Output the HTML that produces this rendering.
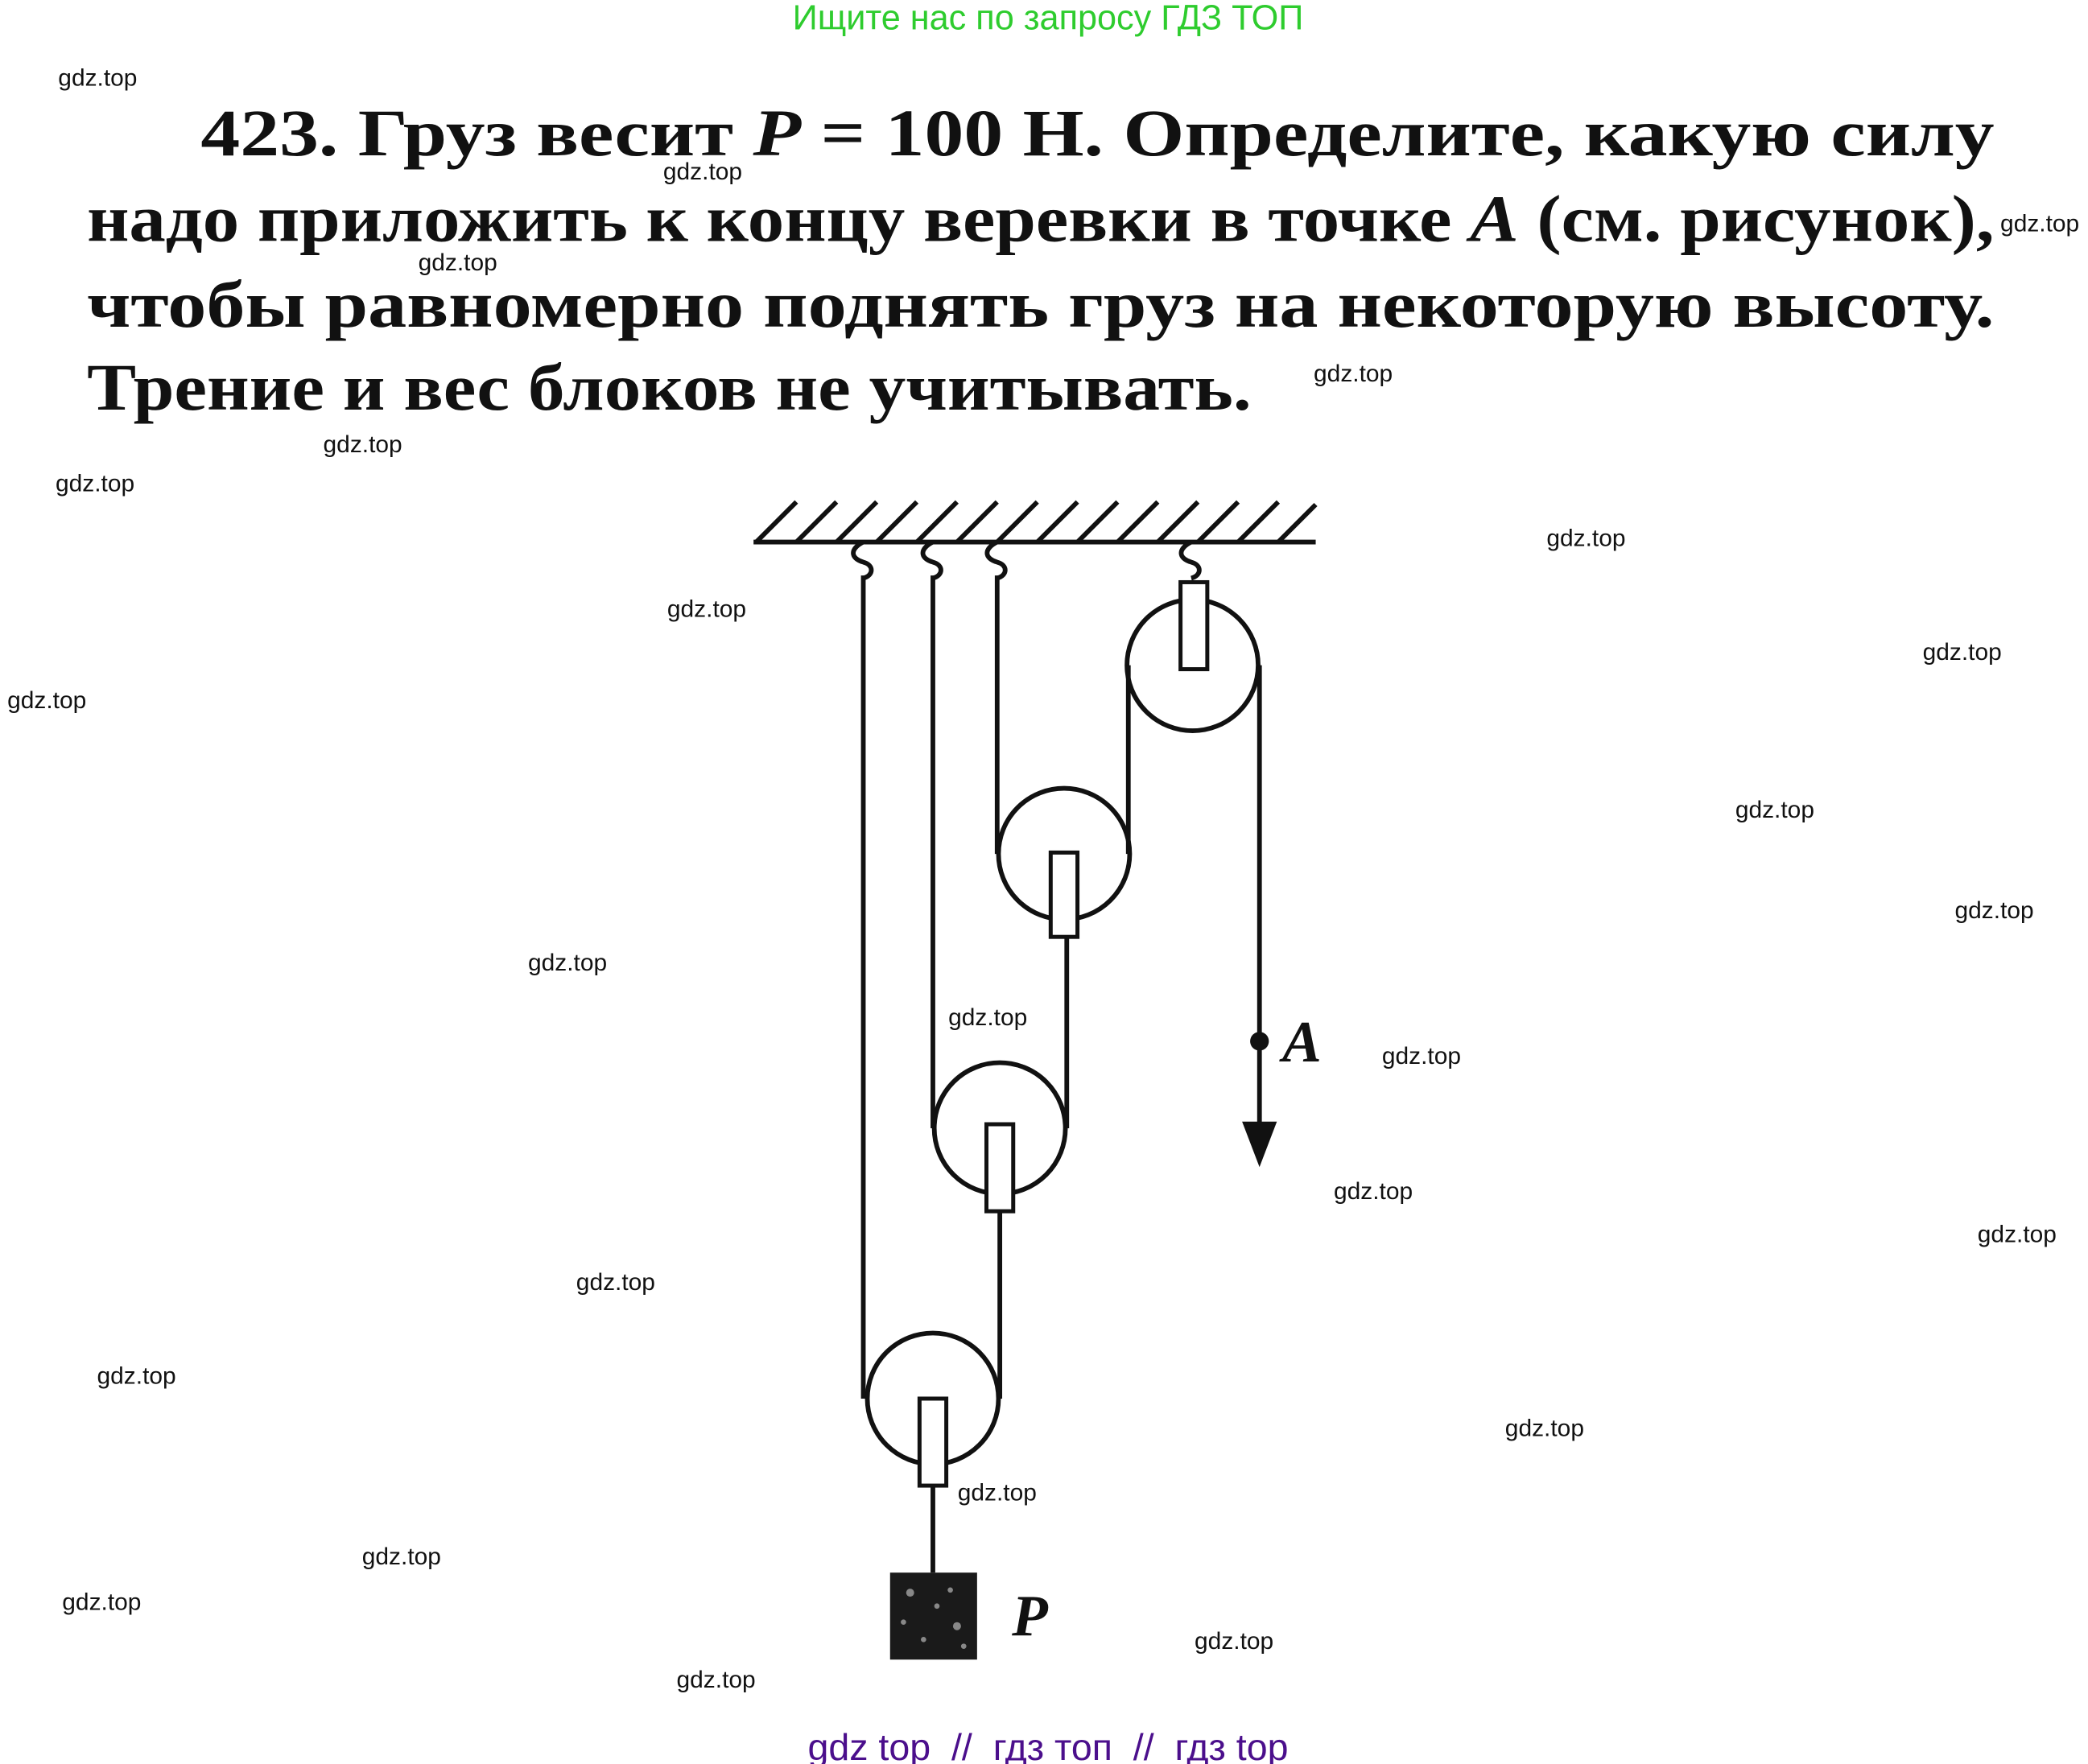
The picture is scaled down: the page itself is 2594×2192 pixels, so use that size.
<!DOCTYPE html>
<html><head><meta charset="utf-8"><style>
html,body{margin:0;padding:0;background:#fff;}
svg{display:block;}
.wm{font-family:"Liberation Sans",sans-serif;font-size:18px;fill:#111;text-anchor:middle;}
.t{font-family:"Liberation Serif","Noto Serif CJK SC",serif;font-size:50px;font-weight:bold;fill:#111;}
</style></head><body>
<svg width="2594" height="2192" viewBox="0 0 1560 1318" preserveAspectRatio="none" xmlns="http://www.w3.org/2000/svg">
<text x="783" y="22" font-family="Liberation Sans,sans-serif" font-size="26" fill="#2ecc2e" text-anchor="middle">Ищите нас по запросу ГДЗ ТОП</text>
<text class="t" x="150" y="116" textLength="1340" lengthAdjust="spacingAndGlyphs">423. Груз весит <tspan font-style="italic">P</tspan> = 100 Н. Определите, какую силу</text>
<text class="t" x="65" y="180" textLength="1425" lengthAdjust="spacingAndGlyphs">надо приложить к концу веревки в точке <tspan font-style="italic">A</tspan> (см. рисунок),</text>
<text class="t" x="65" y="244" textLength="1425" lengthAdjust="spacingAndGlyphs">чтобы равномерно поднять груз на некоторую высоту.</text>
<text class="t" x="65" y="306" textLength="870" lengthAdjust="spacingAndGlyphs">Трение и вес блоков не учитывать.</text>
<g stroke="#111" stroke-width="3.5" fill="none">
<line x1="563" y1="405" x2="983" y2="405"/>
<path d="M565 405l30-30M595 405l30-30M625 405l30-30M655 405l30-30M685 405l30-30M715 405l30-30M745 405l30-30M775 405l30-30M805 405l30-30M835 405l30-30M865 405l30-30M895 405l30-30M925 405l30-30M955 405l28-28"/>
<path d="M645 405c-10 5-10 12 0 15c8 2 8 10 0 12M697 405c-10 5-10 12 0 15c8 2 8 10 0 12M745 405c-10 5-10 12 0 15c8 2 8 10 0 12M890 405c-10 5-10 12 0 15c8 2 8 10 0 12"/>
<circle cx="891" cy="497" r="49"/>
<circle cx="795" cy="638" r="49"/>
<circle cx="747" cy="843" r="49"/>
<circle cx="697" cy="1045" r="49"/>
<line x1="645" y1="430" x2="645" y2="1045"/>
<line x1="747" y1="905" x2="747" y2="1045"/>
<line x1="697" y1="430" x2="697" y2="843"/>
<line x1="797" y1="700" x2="797" y2="843"/>
<line x1="745" y1="430" x2="745" y2="638"/>
<line x1="843" y1="497" x2="843" y2="638"/>
<line x1="941" y1="497" x2="941" y2="845"/>
<line x1="697" y1="1110" x2="697" y2="1175"/>
</g>
<g stroke="#111" stroke-width="3" fill="#fff">
<rect x="882" y="435" width="20" height="65"/>
<rect x="785" y="637" width="20" height="63"/>
<rect x="737" y="840" width="20" height="65"/>
<rect x="687" y="1045" width="20" height="65"/>
</g>
<circle cx="941" cy="778" r="7" fill="#111"/>
<path d="M928 838 L954 838 L941 872 Z" fill="#111"/>
<text x="958" y="793" font-family="Liberation Serif,serif" font-style="italic" font-weight="bold" font-size="44" fill="#111">A</text>
<rect x="665" y="1175" width="65" height="65" fill="#1a1a1a"/>
<g fill="#888"><circle cx="680" cy="1190" r="3"/><circle cx="700" cy="1200" r="2"/><circle cx="715" cy="1215" r="3"/><circle cx="690" cy="1225" r="2"/><circle cx="710" cy="1188" r="2"/><circle cx="675" cy="1212" r="2"/><circle cx="720" cy="1230" r="2"/></g>
<text x="756" y="1222" font-family="Liberation Serif,serif" font-style="italic" font-weight="bold" font-size="44" fill="#111">P</text>
<g class="wm">
<text x="73" y="64">gdz.top</text><text x="525" y="134">gdz.top</text><text x="1524" y="173">gdz.top</text>
<text x="342" y="202">gdz.top</text><text x="1011" y="285">gdz.top</text><text x="271" y="338">gdz.top</text>
<text x="71" y="367">gdz.top</text><text x="1185" y="408">gdz.top</text><text x="528" y="461">gdz.top</text>
<text x="1466" y="493">gdz.top</text><text x="35" y="529">gdz.top</text><text x="1326" y="611">gdz.top</text>
<text x="1490" y="686">gdz.top</text><text x="424" y="725">gdz.top</text><text x="738" y="766">gdz.top</text>
<text x="1062" y="795">gdz.top</text><text x="1026" y="896">gdz.top</text><text x="1507" y="928">gdz.top</text>
<text x="460" y="964">gdz.top</text><text x="102" y="1034">gdz.top</text><text x="1154" y="1073">gdz.top</text>
<text x="745" y="1121">gdz.top</text><text x="300" y="1169">gdz.top</text><text x="76" y="1203">gdz.top</text>
<text x="922" y="1232">gdz.top</text><text x="535" y="1261">gdz.top</text>
</g>
<text x="783" y="1315" font-family="Liberation Sans,sans-serif" font-size="28" fill="#4b0f8c" text-anchor="middle" xml:space="preserve">gdz top  //  гдз топ  //  гдз top</text>
</svg>
</body></html>
